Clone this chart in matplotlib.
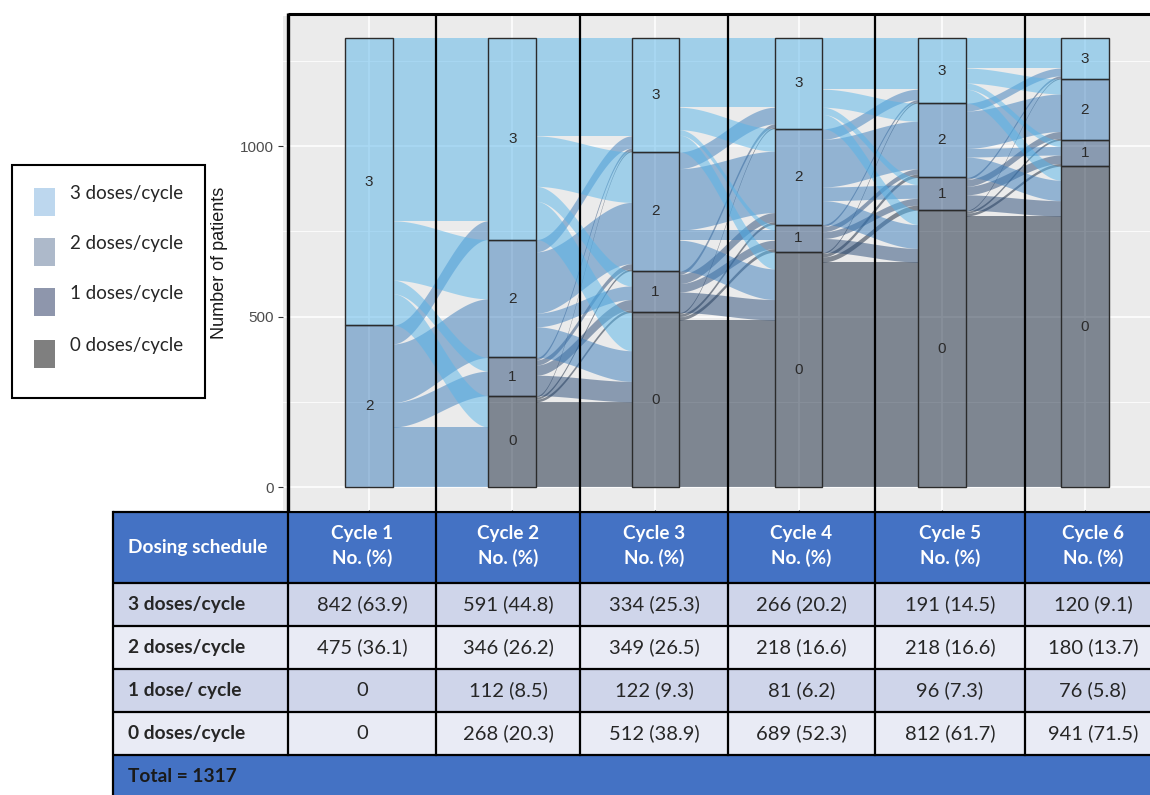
import numpy as np
import matplotlib
matplotlib.use("Agg")
import matplotlib.pyplot as plt
from matplotlib.patches import Rectangle
from matplotlib.colors import to_rgba

# ---------------- data ----------------
cycles = ["Cycle 1", "Cycle 2", "Cycle 3", "Cycle 4", "Cycle 5", "Cycle 6"]
dose_levels = ["0", "1", "2", "3"]          # stacked bottom -> top
legend_labels = ["3 doses/cycle", "2 doses/cycle", "1 doses/cycle", "0 doses/cycle"]

# flows[i][j]: patients on dose level i in one cycle moving to dose level j in the next
flows_c1_c2 = [[0, 0, 0, 0],
               [0, 0, 0, 0],
               [176, 72, 172, 55],
               [92, 40, 174, 536]]
flows_c2_c3 = [[250, 8, 6, 4],
               [60, 30, 15, 7],
               [90, 40, 180, 36],
               [112, 44, 148, 287]]
flows_c3_c4 = [[490, 10, 8, 4],
               [60, 25, 27, 10],
               [90, 30, 180, 49],
               [49, 16, 66, 203]]
flows_c4_c5 = [[660, 15, 10, 4],
               [40, 20, 15, 6],
               [70, 40, 140, 31],
               [42, 21, 53, 150]]
flows_c5_c6 = [[795, 8, 6, 3],
               [45, 25, 20, 6],
               [60, 25, 110, 23],
               [41, 18, 44, 88]]
all_flows = [flows_c1_c2, flows_c2_c3, flows_c3_c4, flows_c4_c5, flows_c5_c6]

# table values (as printed)
table_rows = ["3 doses/cycle", "2 doses/cycle", "1 dose/ cycle", "0 doses/cycle"]
n_3 = [842, 591, 334, 266, 191, 120]
p_3 = ["63.9", "44.8", "25.3", "20.2", "14.5", "9.1"]
n_2 = [475, 346, 349, 218, 218, 180]
p_2 = ["36.1", "26.2", "26.5", "16.6", "16.6", "13.7"]
n_1 = [0, 112, 122, 81, 96, 76]
p_1 = ["", "8.5", "9.3", "6.2", "7.3", "5.8"]
n_0 = [0, 268, 512, 689, 812, 941]
p_0 = ["", "20.3", "38.9", "52.3", "61.7", "71.5"]
total_patients = 1317

# ---------------- style ----------------
fill_cols = {0: "#132339", 1: "#294B77", 2: "#3B7DBB", 3: "#56B4E9"}
legend_cols = ["#BDD7EE", "#ADB9CA", "#8E96AC", "#7F7F7F"]
W, H = 1150, 795
fig = plt.figure(figsize=(W / 100, H / 100), dpi=100)
fig.patch.set_facecolor("white")

# ---------------- alluvial plot ----------------
ax = fig.add_axes([283.1 / W, (H - 509.5) / H, 887.8 / W, 493.9 / H])
ax.set_facecolor("#EBEBEB")
ax.set_xlim(0.4, 6.6)
ax.set_ylim(-65.85, 1382.85)
for sp in ax.spines.values():
    sp.set_visible(False)
ax.set_yticks([0, 500, 1000])
ax.set_yticks([250, 750, 1250], minor=True)
ax.set_xticks(range(1, 7))
ax.set_xticklabels([])
ax.grid(True, which="major", color="white", lw=1.1)
ax.grid(True, which="minor", axis="y", color="white", lw=0.55)
ax.set_axisbelow(True)
ax.tick_params(axis="both", which="major", length=3.5, width=0.8, color="#333333",
               labelsize=11, labelcolor="#4D4D4D", pad=3)
ax.tick_params(axis="y", which="minor", length=0)
for lab in ax.get_yticklabels():
    lab.set_family("Liberation Sans")

bw = 1 / 3
t = np.linspace(0, 1, 150)
s = t * t * (3 - 2 * t)

totals = [np.array(all_flows[0]).sum(axis=1)]
for F in all_flows:
    totals.append(np.array(F).sum(axis=0))

for k, F in enumerate(all_flows):
    F = np.array(F)
    x0 = k + 1 + bw / 2
    x1 = k + 2 - bw / 2
    xs = x0 + (x1 - x0) * t
    src_base = np.concatenate([[0], np.cumsum(F.sum(axis=1))[:-1]])
    dst_base = np.concatenate([[0], np.cumsum(F.sum(axis=0))[:-1]])
    src_off, dst_off = {}, {}
    for i in range(4):
        acc = src_base[i]
        for j in range(4):
            src_off[(i, j)] = acc
            acc += F[i, j]
    for j in range(4):
        acc = dst_base[j]
        for i in range(4):
            dst_off[(i, j)] = acc
            acc += F[i, j]
    for i in range(4):
        for j in range(4):
            if F[i, j] > 0:
                lo = src_off[(i, j)] + (dst_off[(i, j)] - src_off[(i, j)]) * s
                ax.fill_between(xs, lo, lo + F[i, j], color=fill_cols[i],
                                alpha=0.5, lw=0, zorder=2)

for c, tot in enumerate(totals):
    base = 0
    for d in range(4):
        n = tot[d]
        if n > 0:
            ax.add_patch(Rectangle((c + 1 - bw / 2, base), bw, n,
                                   facecolor=to_rgba(fill_cols[d], 0.5),
                                   edgecolor="#2b2b2b", lw=1.0, zorder=3))
            ax.text(c + 1, base + n / 2, dose_levels[d], ha="center", va="center",
                    fontsize=11, color="#2b2b2b", family="Liberation Sans", zorder=4)
        base += n

fig.text(220 / W, 1 - 262.5 / H, "Number of patients", rotation=90, ha="center",
         va="center", fontsize=13, family="Liberation Sans", color="#1a1a1a")

# ---------------- overlay: legend, table, frame lines ----------------
ov = fig.add_axes([0, 0, 1, 1])
ov.set_xlim(0, W)
ov.set_ylim(H, 0)
ov.axis("off")

# legend box
ov.add_patch(Rectangle((12, 165), 193, 233, facecolor="white", edgecolor="black", lw=1.5))
leg_y = [202, 252, 302, 354]
for lab, col, yy in zip(legend_labels, legend_cols, leg_y):
    ov.add_patch(Rectangle((34, yy - 14), 21, 28, facecolor=col, edgecolor="none"))
    ov.text(70, yy - 8, lab, ha="left", va="center", fontsize=13.5, family="Lato",
            color="#262626")

# table
col_edges = [113, 288, 436, 580, 728, 875, 1025, 1161]
row_edges = [512, 583, 626, 669, 712, 755, 795]
blue = "#4472C4"
band = ["#CFD5EA", "#E9EBF5", "#CFD5EA", "#E9EBF5"]
ov.add_patch(Rectangle((113, 512), 1161 - 113, 71, facecolor=blue, edgecolor="none"))
for r in range(4):
    ov.add_patch(Rectangle((113, row_edges[r + 1]), 1161 - 113,
                           row_edges[r + 2] - row_edges[r + 1],
                           facecolor=band[r], edgecolor="none"))
ov.add_patch(Rectangle((113, 755), 1161 - 113, 45, facecolor=blue, edgecolor="none"))

ov.text(128, 548, "Dosing schedule", ha="left", va="center", fontsize=13.8,
        family="Lato", weight="bold", color="white")
for c, name in enumerate(cycles):
    cx = (col_edges[c + 1] + col_edges[c + 2]) / 2
    ov.text(cx, 534, name, ha="center", va="center", fontsize=13.6, family="Lato",
            weight="bold", color="white")
    ov.text(cx, 558, "No. (%)", ha="center", va="center", fontsize=13.6, family="Lato",
            weight="bold", color="white")

counts = [n_3, n_2, n_1, n_0]
pcts = [p_3, p_2, p_1, p_0]
for r, lab in enumerate(table_rows):
    cy = (row_edges[r + 1] + row_edges[r + 2]) / 2
    ov.text(128, cy, lab, ha="left", va="center", fontsize=13.8, family="Lato",
            weight="bold", color="#262626")
    for c in range(6):
        cx = (col_edges[c + 1] + col_edges[c + 2]) / 2
        n = counts[r][c]
        txt = f"{n} ({pcts[r][c]})" if n > 0 else "0"
        ov.text(cx, cy, txt, ha="center", va="center", fontsize=14.5, family="Lato",
                color="#262626")
ov.text(128, 776, f"Total = {total_patients}", ha="left", va="center", fontsize=13.8,
        family="Lato", weight="bold", color="#1a1a1a")

# table grid lines
for y in row_edges[:-1]:
    ov.plot([113, 1161], [y, y], color="black", lw=1.6, solid_capstyle="butt")
ov.plot([113, 113], [512, 795], color="black", lw=1.6)
for x in col_edges[1:-1]:
    ov.plot([x, x], [512, 755], color="black", lw=1.6)

# frame lines over the plot
ov.plot([288, 1161], [14, 14], color="black", lw=2.2, solid_capstyle="butt")
for x, w in zip(col_edges[1:-1], [2.4, 1.6, 1.6, 1.6, 1.6, 1.6]):
    ov.plot([x, x], [13, 512], color="black", lw=w, solid_capstyle="butt")

fig.savefig("out.png", dpi=100)
